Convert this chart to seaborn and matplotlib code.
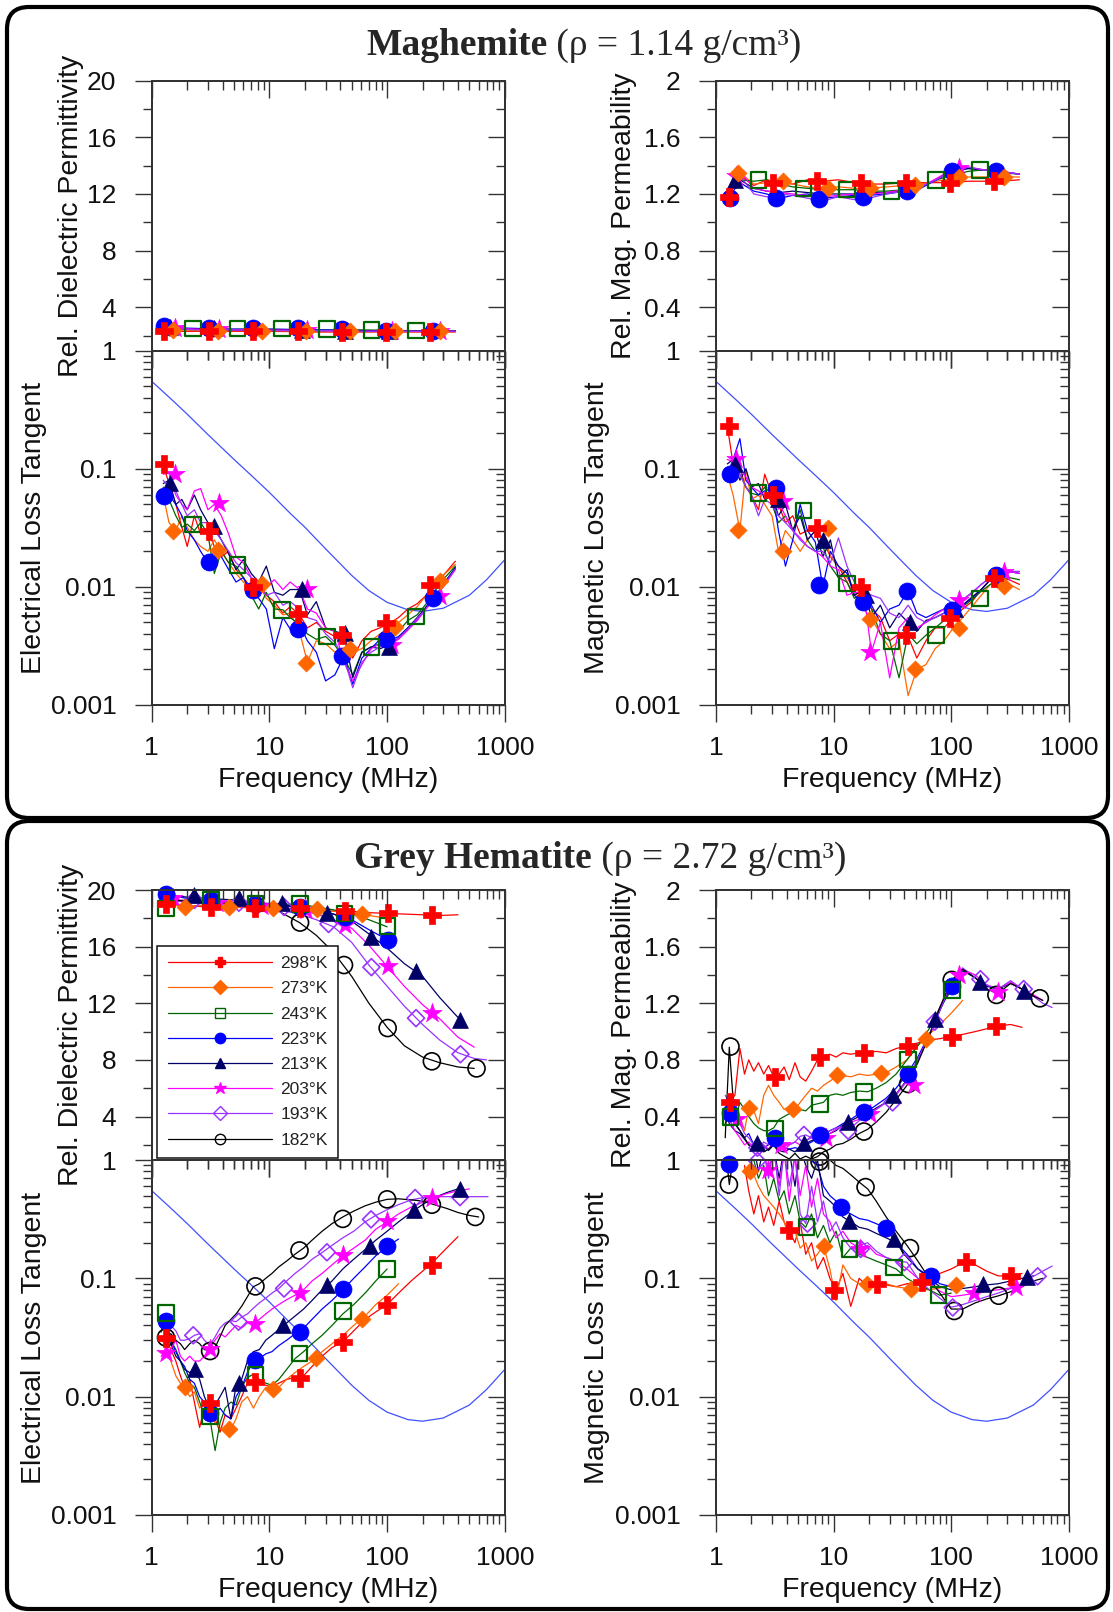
"""
Dielectric and magnetic spectra of maghemite and grey hematite at several temperatures.
"""

import matplotlib
matplotlib.use("Agg")
import matplotlib.pyplot as plt
import numpy as np
import seaborn as sns
from matplotlib.lines import Line2D
from matplotlib.patches import FancyBboxPatch
from matplotlib.ticker import LogLocator, NullFormatter

# ---------------------------------------------------------------- data
TEMPS = ["298", "273", "243", "223", "213", "203", "193", "182"]
LEGEND_LABELS = [t + "\u00b0K" for t in TEMPS]

# instrument limit curve (same in all loss-tangent panels)
REF_FREQ = [1, 1.5, 2, 3, 5, 7, 10, 15, 20, 30, 50, 70, 100, 150, 200, 300, 500, 700, 1000]
REF_LOSS = [0.55, 0.38, 0.29, 0.195, 0.12, 0.088, 0.063, 0.042, 0.032, 0.021, 0.0125,
            0.0093, 0.0074, 0.0064, 0.0062, 0.0066, 0.0085, 0.0115, 0.017]

# ---- Maghemite
MAG_EPS_GRID = [1.25, 1.6, 2.5, 5, 10, 25, 60, 150, 380]
MAG_EPS_LINES = {
    "298": [2.3, 2.3, 2.3, 2.3, 2.3, 2.25, 2.25, 2.25, 2.25],
    "273": [2.4, 2.4, 2.35, 2.35, 2.35, 2.3, 2.3, 2.3, 2.3],
    "243": [2.45, 2.45, 2.45, 2.45, 2.45, 2.4, 2.4, 2.35, 2.35],
    "223": [2.65, 2.55, 2.5, 2.45, 2.45, 2.4, 2.35, 2.3, 2.3],
    "213": [2.6, 2.5, 2.45, 2.4, 2.4, 2.35, 2.35, 2.3, 2.3],
    "203": [2.55, 2.5, 2.45, 2.4, 2.4, 2.35, 2.3, 2.3, 2.3],
    "193": [2.5, 2.45, 2.4, 2.4, 2.35, 2.35, 2.3, 2.3, 2.3],
}
MAG_EPS_MARKS = {
    "298": ([1.26, 3.06, 7.3, 17.5, 41, 98, 231], [2.3, 2.3, 2.3, 2.3, 2.25, 2.25, 2.25]),
    "273": ([1.52, 3.65, 8.7, 20.6, 48.7, 116, 281], [2.4, 2.35, 2.35, 2.35, 2.3, 2.3, 2.3]),
    "243": ([2.23, 5.35, 12.8, 30.8, 73.6, 176], [2.5, 2.5, 2.5, 2.45, 2.4, 2.35]),
    "223": ([1.28, 3.06, 7.3, 17.5, 41, 98, 245], [2.7, 2.55, 2.5, 2.5, 2.45, 2.35, 2.3]),
    "213": ([1.42, 3.35, 18.8, 44, 104], [2.6, 2.5, 2.4, 2.35, 2.3]),
    "203": ([1.58, 3.7, 20.9, 110, 280], [2.5, 2.45, 2.4, 2.3, 2.3]),
}

MAG_MU_GRID = [1.25, 1.6, 2.1, 2.7, 3.5, 4.5, 6, 8, 11, 15, 20, 28, 40, 55, 75, 100, 140, 190, 260, 380]
MAG_MU_LINES = {
    "298": [1.18, 1.33, 1.26, 1.3, 1.28, 1.27, 1.3, 1.29, 1.3, 1.28, 1.27, 1.27, 1.28, 1.28, 1.28, 1.28, 1.29, 1.29, 1.29, 1.3],
    "273": [1.2, 1.35, 1.27, 1.28, 1.29, 1.27, 1.25, 1.24, 1.25, 1.24, 1.24, 1.25, 1.26, 1.27, 1.29, 1.31, 1.32, 1.32, 1.32, 1.32],
    "243": [1.22, 1.3, 1.29, 1.3, 1.27, 1.25, 1.24, 1.23, 1.23, 1.23, 1.22, 1.22, 1.23, 1.25, 1.3, 1.33, 1.36, 1.37, 1.35, 1.34],
    "223": [1.17, 1.28, 1.22, 1.2, 1.17, 1.19, 1.2, 1.17, 1.18, 1.19, 1.19, 1.2, 1.22, 1.24, 1.3, 1.36, 1.38, 1.37, 1.36, 1.34],
    "213": [1.2, 1.3, 1.24, 1.22, 1.21, 1.22, 1.21, 1.2, 1.2, 1.2, 1.21, 1.21, 1.22, 1.25, 1.3, 1.36, 1.38, 1.37, 1.36, 1.34],
    "203": [1.22, 1.36, 1.24, 1.22, 1.21, 1.2, 1.19, 1.18, 1.19, 1.2, 1.2, 1.21, 1.23, 1.25, 1.31, 1.37, 1.39, 1.37, 1.36, 1.34],
    "193": [1.2, 1.33, 1.2, 1.18, 1.2, 1.19, 1.17, 1.15, 1.18, 1.16, 1.17, 1.2, 1.22, 1.25, 1.3, 1.36, 1.39, 1.37, 1.36, 1.34],
}
MAG_MU_MARKS = {
    "298": ([1.3, 3.04, 7.2, 17, 41, 98, 233], [1.18, 1.28, 1.29, 1.28, 1.28, 1.28, 1.29]),
    "273": ([1.54, 3.69, 8.9, 20.5, 48.8, 116, 280], [1.35, 1.29, 1.24, 1.24, 1.26, 1.32, 1.32]),
    "243": ([2.3, 5.55, 13, 31, 74, 176], [1.3, 1.24, 1.23, 1.22, 1.3, 1.37]),
    "223": ([1.32, 3.25, 7.5, 17.8, 42.4, 101, 240], [1.17, 1.17, 1.165, 1.18, 1.22, 1.36, 1.36]),
    "213": ([1.45], [1.3]),
    "203": ([1.47, 116], [1.33, 1.38]),
}

MAG_LOSS_GRID = [1.25, 1.4, 1.6, 1.8, 2.0, 2.3, 2.6, 3.0, 3.4, 3.9, 4.5, 5.2, 6.0, 7.0, 8.1, 9.4, 11, 13, 15,
                 18, 21, 25, 30, 36, 43, 51, 61, 73, 87, 104, 125, 150, 180, 215, 260, 310, 380]
MAG_ELOSS_LINES = {
    "298": [0.108, 0.075, 0.05, 0.032, 0.022, 0.04, 0.028, 0.03, 0.022, 0.018, 0.02, 0.014, 0.012, 0.0098, 0.011,
            0.0085, 0.0075, 0.006, 0.0068, 0.0058, 0.0045, 0.005, 0.0042, 0.0038, 0.0038, 0.0025, 0.0035, 0.0042,
            0.0045, 0.0049, 0.0055, 0.0065, 0.0072, 0.0085, 0.0102, 0.013, 0.0165],
    "273": [0.06, 0.035, 0.03, 0.04, 0.032, 0.025, 0.022, 0.02, 0.025, 0.02, 0.016, 0.013, 0.011, 0.0095, 0.0105,
            0.008, 0.007, 0.0058, 0.006, 0.0042, 0.0023, 0.0035, 0.0033, 0.0028, 0.003, 0.0028, 0.003, 0.0035,
            0.004, 0.0045, 0.005, 0.0058, 0.0068, 0.0085, 0.011, 0.013, 0.0155],
    "243": [0.07, 0.055, 0.04, 0.032, 0.034, 0.03, 0.035, 0.028, 0.013, 0.02, 0.016, 0.015, 0.012, 0.0085, 0.0065,
            0.009, 0.0065, 0.0064, 0.0055, 0.0048, 0.004, 0.0036, 0.0038, 0.0032, 0.0025, 0.0018, 0.0028, 0.0031,
            0.0033, 0.0036, 0.0042, 0.0052, 0.0058, 0.0072, 0.0095, 0.012, 0.015],
    "223": [0.058, 0.06, 0.05, 0.04, 0.03, 0.025, 0.02, 0.016, 0.02, 0.018, 0.014, 0.011, 0.012, 0.009, 0.008,
            0.0065, 0.003, 0.0055, 0.0044, 0.0048, 0.0035, 0.0028, 0.0016, 0.0018, 0.0026, 0.0015, 0.0025, 0.003,
            0.0036, 0.0035, 0.0038, 0.0045, 0.0052, 0.0068, 0.0082, 0.011, 0.0145],
    "213": [0.075, 0.08, 0.05, 0.055, 0.045, 0.06, 0.045, 0.035, 0.032, 0.025, 0.019, 0.014, 0.017, 0.013, 0.011,
            0.015, 0.009, 0.0085, 0.0095, 0.0095, 0.0058, 0.0075, 0.0045, 0.0042, 0.004, 0.0017, 0.0028, 0.0031,
            0.003, 0.0032, 0.0037, 0.0045, 0.0055, 0.0068, 0.0085, 0.011, 0.0145],
    "203": [0.09, 0.092, 0.06, 0.05, 0.045, 0.065, 0.068, 0.045, 0.05, 0.04, 0.028, 0.018, 0.016, 0.012, 0.011,
            0.01, 0.0115, 0.0095, 0.011, 0.0095, 0.0065, 0.006, 0.0045, 0.0042, 0.0023, 0.0016, 0.0022, 0.003,
            0.0033, 0.0032, 0.0036, 0.0043, 0.0052, 0.0065, 0.0082, 0.0105, 0.014],
    "193": [0.08, 0.07, 0.065, 0.05, 0.04, 0.045, 0.035, 0.035, 0.03, 0.025, 0.02, 0.016, 0.014, 0.012, 0.01,
            0.0085, 0.009, 0.007, 0.0075, 0.0065, 0.0055, 0.0052, 0.004, 0.0034, 0.0025, 0.0014, 0.0023, 0.0028,
            0.0031, 0.0033, 0.0037, 0.0044, 0.0054, 0.0066, 0.0084, 0.0108, 0.0142],
}
MAG_ELOSS_MARKS = {
    "298": ([1.26, 3.06, 7.3, 17.5, 41, 98, 231], [0.109, 0.030, 0.0099, 0.0059, 0.0039, 0.0049, 0.0103]),
    "273": ([1.52, 3.65, 8.7, 20.6, 48.7, 116, 281], [0.0296, 0.0204, 0.0106, 0.00226, 0.00296, 0.0046, 0.0113]),
    "243": ([2.23, 5.35, 12.8, 30.8, 73.6, 176], [0.0338, 0.0154, 0.0064, 0.0038, 0.0031, 0.0056]),
    "223": ([1.28, 3.06, 7.3, 17.5, 41, 98, 245], [0.0586, 0.0162, 0.0095, 0.0044, 0.0026, 0.0036, 0.008]),
    "213": ([1.42, 3.35, 18.8, 44, 104], [0.076, 0.0326, 0.0096, 0.0041, 0.0031]),
    "203": ([1.58, 3.7, 20.9, 110, 280], [0.0895, 0.0515, 0.0096, 0.0032, 0.0083]),
}
MAG_MLOSS_LINES = {
    "298": [0.23, 0.11, 0.1, 0.07, 0.06, 0.045, 0.09, 0.06, 0.05, 0.035, 0.04, 0.028, 0.03, 0.032, 0.025,
            0.018, 0.015, 0.011, 0.0085, 0.0095, 0.0065, 0.0055, 0.0035, 0.004, 0.0038, 0.0025, 0.0035, 0.0045,
            0.0045, 0.0055, 0.0065, 0.0075, 0.0095, 0.0115, 0.012, 0.0115, 0.0105],
    "273": [0.09, 0.06, 0.03, 0.1, 0.055, 0.06, 0.05, 0.04, 0.02, 0.03, 0.025, 0.02, 0.025, 0.03, 0.032,
            0.018, 0.015, 0.012, 0.0095, 0.0065, 0.0054, 0.004, 0.003, 0.0035, 0.0012, 0.002, 0.0022, 0.003,
            0.0035, 0.0045, 0.0055, 0.0068, 0.0085, 0.0105, 0.011, 0.0105, 0.0095],
    "243": [0.1, 0.11, 0.09, 0.07, 0.062, 0.06, 0.07, 0.05, 0.035, 0.04, 0.03, 0.045, 0.025, 0.02, 0.022,
            0.015, 0.012, 0.011, 0.008, 0.009, 0.0065, 0.004, 0.0035, 0.0017, 0.004, 0.0033, 0.0039, 0.0045,
            0.0052, 0.006, 0.0068, 0.0078, 0.0092, 0.0105, 0.0115, 0.012, 0.0115],
    "223": [0.09, 0.12, 0.18, 0.08, 0.07, 0.06, 0.065, 0.068, 0.03, 0.015, 0.025, 0.05, 0.03, 0.024, 0.01,
            0.02, 0.015, 0.013, 0.0085, 0.0073, 0.007, 0.005, 0.0065, 0.007, 0.0093, 0.006, 0.0055, 0.006,
            0.0065, 0.0066, 0.007, 0.008, 0.0095, 0.0115, 0.0125, 0.0135, 0.013],
    "213": [0.11, 0.12, 0.08, 0.1, 0.07, 0.075, 0.055, 0.06, 0.04, 0.05, 0.03, 0.04, 0.025, 0.03, 0.018,
            0.025, 0.012, 0.014, 0.0085, 0.0095, 0.0055, 0.007, 0.0045, 0.006, 0.005, 0.0042, 0.0052, 0.0055,
            0.006, 0.0062, 0.007, 0.0082, 0.0095, 0.0115, 0.0125, 0.0135, 0.0135],
    "203": [0.12, 0.115, 0.1, 0.085, 0.07, 0.065, 0.06, 0.055, 0.052, 0.04, 0.03, 0.026, 0.022, 0.02, 0.018,
            0.015, 0.014, 0.0085, 0.009, 0.009, 0.0028, 0.005, 0.0017, 0.0045, 0.0055, 0.0045, 0.005, 0.0058,
            0.0065, 0.007, 0.0078, 0.0088, 0.0105, 0.012, 0.013, 0.0135, 0.013],
    "193": [0.1, 0.11, 0.09, 0.07, 0.06, 0.04, 0.055, 0.05, 0.04, 0.035, 0.03, 0.025, 0.022, 0.02, 0.02,
            0.016, 0.026, 0.015, 0.011, 0.009, 0.0085, 0.008, 0.006, 0.0055, 0.007, 0.0055, 0.005, 0.0055,
            0.006, 0.0068, 0.0078, 0.009, 0.0105, 0.012, 0.013, 0.0135, 0.0135],
}
MAG_MLOSS_MARKS = {
    "298": ([1.3, 3.04, 7.2, 17, 41, 98, 233], [0.23, 0.0605, 0.0316, 0.01, 0.0039, 0.0055, 0.0119]),
    "273": ([1.54, 3.69, 8.9, 20.5, 48.8, 116, 280], [0.0306, 0.02, 0.0316, 0.0054, 0.002, 0.0045, 0.0102]),
    "243": ([2.3, 5.55, 13, 31, 74, 176], [0.0625, 0.0443, 0.0107, 0.0035, 0.0039, 0.008]),
    "223": ([1.32, 3.25, 7.5, 17.8, 42.4, 101, 240], [0.0895, 0.069, 0.0103, 0.0074, 0.0093, 0.0064, 0.0127]),
    "213": ([1.45, 3.4, 8.1, 19, 45, 107, 255], [0.11, 0.055, 0.025, 0.0085, 0.005, 0.0065, 0.0125]),
    "203": ([1.47, 3.7, 20.5, 116, 280], [0.12, 0.053, 0.0028, 0.0077, 0.0135]),
}

# ---- Grey hematite
HEM_EPS_GRID = [1.2, 1.5, 2, 3, 5, 8, 12, 18, 25, 35, 50, 70, 100, 140, 200, 280, 400, 550, 700]
HEM_EPS_LINES = {
    "298": [19.2, 19.0, 18.9, 18.8, 18.8, 18.7, 18.7, 18.7, 18.6, 18.5, 18.5, 18.4, 18.35, 18.3, 18.25, 18.2, 18.25],
    "273": [19.0, 18.9, 18.9, 18.9, 18.8, 18.8, 18.7, 18.7, 18.6, 18.5, 18.4, 18.2, 18.0],
    "243": [18.8, 19.2, 19.3, 19.2, 19.1, 19.0, 19.0, 19.0, 18.8, 18.6, 18.3, 17.9, 17.4],
    "223": [19.8, 19.6, 19.4, 19.3, 19.1, 19.0, 18.9, 18.8, 18.6, 18.3, 17.9, 17.2, 16.5],
    "213": [19.7, 19.6, 19.5, 19.4, 19.3, 19.1, 19.0, 18.8, 18.6, 18.3, 17.8, 16.9, 15.9, 14.8, 13.9, 12.4, 11.0],
    "203": [19.6, 19.4, 19.2, 19.1, 19.0, 18.9, 18.8, 18.6, 18.3, 17.9, 17.3, 16.1, 14.6, 13.2, 11.9, 10.9, 9.6, 8.9],
    "193": [19.4, 19.3, 19.1, 19.0, 18.9, 18.8, 18.6, 18.3, 17.9, 17.4, 16.3, 14.7, 13.2, 11.8, 10.5, 9.4, 8.5, 8.1, 8.0],
    "182": [19.5, 19.3, 19.2, 19.1, 19.0, 18.9, 18.5, 17.7, 16.8, 15.6, 13.9, 12.0, 10.3, 9.0, 8.2, 7.8, 7.5, 7.4],
}
HEM_EPS_MARKS = {
    "298": ([1.32, 3.17, 7.6, 18.2, 43.6, 101, 240], [19.0, 18.8, 18.7, 18.7, 18.5, 18.35, 18.2]),
    "273": ([1.9, 4.5, 10.8, 25.5, 60.6], [18.8, 18.8, 18.7, 18.65, 18.3]),
    "243": ([1.32, 3.17, 7.6, 18.2, 43.6, 101], [18.7, 19.3, 19.05, 19.0, 18.35, 17.45]),
    "223": ([1.32, 3.17, 7.6, 18.2, 43.6, 101], [19.7, 19.3, 19.0, 18.8, 18.1, 16.5]),
    "213": ([2.3, 5.5, 12.8, 30.8, 73.5, 176, 418], [19.65, 19.4, 19.05, 18.35, 16.7, 14.3, 10.85]),
    "203": ([1.5, 3.6, 8.7, 20.6, 43.6, 101, 240], [19.4, 19.1, 18.9, 18.6, 17.5, 14.6, 11.3]),
    "193": ([2.3, 5.5, 13.3, 31.8, 73.5, 176, 420], [19.3, 19.1, 18.8, 17.6, 14.55, 10.95, 8.4]),
    "182": ([18.2, 43, 101, 240, 575], [17.7, 14.7, 10.25, 7.9, 7.4]),
}

HEM_GRID = [1.2, 1.3, 1.45, 1.6, 1.75, 1.9, 2.1, 2.3, 2.55, 2.8, 3.1, 3.45, 3.8, 4.2, 4.7, 5.2, 5.8, 6.5, 7.3, 8.2,
            9.3, 10.5, 12, 14, 16.5, 19.5, 23, 28, 34, 42, 52, 65, 80, 100, 125, 160, 200, 250, 320, 400,
            500, 600, 720]
HEM_MU_LINES = {
    "298": [0.45, 0.5, 0.55, 0.88, 0.7, 0.8, 0.72, 0.78, 0.7, 0.76, 0.68, 0.7, 0.75, 0.66, 0.78, 0.68, 0.65, 0.72,
            0.8, 0.83, 0.84, 0.82, 0.85, 0.84, 0.85, 0.85, 0.86, 0.85, 0.88, 0.9, 0.92, 0.94, 0.95, 0.965, 0.98,
            1.0, 1.02, 1.04, 1.05, 1.03],
    "273": [0.45, 0.46, 0.45, 0.4, 0.3, 0.46, 0.44, 0.35, 0.55, 0.62, 0.55, 0.5, 0.45, 0.47, 0.45, 0.5, 0.55, 0.6,
            0.58, 0.62, 0.65, 0.68, 0.69, 0.68, 0.7, 0.69, 0.7, 0.71, 0.75, 0.8, 0.9, 0.98, 1.05, 1.13, 1.22],
    "243": [0.35, 0.4, 0.37, 0.5, 0.45, 0.4, 0.35, 0.32, 0.3, 0.3, 0.32, 0.38, 0.4, 0.42, 0.43, 0.45, 0.44, 0.48,
            0.49, 0.5, 0.55, 0.56, 0.55, 0.57, 0.58, 0.575, 0.6, 0.64, 0.7, 0.8, 0.9, 1.02, 1.17, 1.29],
    "223": [0.4, 0.42, 0.35, 0.3, 0.25, 0.28, 0.2, 0.23, 0.18, 0.2, 0.25, 0.22, 0.18, 0.17, 0.18, 0.17, 0.2, 0.22,
            0.25, 0.27, 0.3, 0.32, 0.35, 0.38, 0.42, 0.44, 0.48, 0.53, 0.6, 0.7, 0.82, 0.98, 1.15, 1.32],
    "213": [0.45, 0.35, 0.3, 0.28, 0.24, 0.2, 0.18, 0.21, 0.19, 0.16, 0.2, 0.16, 0.15, 0.17, 0.15, 0.19, 0.21, 0.23,
            0.25, 0.26, 0.28, 0.3, 0.34, 0.37, 0.4, 0.42, 0.46, 0.5, 0.56, 0.66, 0.8, 0.97, 1.15, 1.33, 1.43,
            1.38, 1.32, 1.3, 1.34, 1.3, 1.25],
    "203": [0.42, 0.38, 0.3, 0.25, 0.2, 0.22, 0.18, 0.15, 0.2, 0.17, 0.22, 0.18, 0.16, 0.2, 0.22, 0.2, 0.23, 0.25,
            0.24, 0.26, 0.28, 0.31, 0.33, 0.36, 0.38, 0.42, 0.45, 0.5, 0.56, 0.65, 0.8, 0.97, 1.17, 1.35, 1.44,
            1.4, 1.33, 1.3, 1.35, 1.3, 1.26, 1.22],
    "193": [0.55, 0.5, 0.52, 0.35, 0.28, 0.25, 0.2, 0.17, 0.22, 0.2, 0.22, 0.21, 0.2, 0.2, 0.22, 0.26, 0.27, 0.25,
            0.27, 0.28, 0.3, 0.32, 0.31, 0.32, 0.37, 0.41, 0.45, 0.5, 0.55, 0.65, 0.8, 0.97, 1.15, 1.34, 1.45,
            1.38, 1.33, 1.3, 1.36, 1.3, 1.25, 1.2, 1.17],
    "182": [0.25, 0.89, 0.35, 0.3, 0.25, 0.2, 0.18, 0.22, 0.15, 0.17, 0.2, 0.14, 0.12, 0.1, 0.14, 0.1, 0.12, 0.1,
            0.117, 0.15, 0.17, 0.2, 0.21, 0.24, 0.28, 0.31, 0.36, 0.43, 0.52, 0.62, 0.78, 0.97, 1.17, 1.36, 1.44,
            1.38, 1.3, 1.27, 1.34, 1.3, 1.25, 1.22],
}
HEM_MU_MARKS = {
    "298": ([1.33, 3.18, 7.65, 18.1, 43, 101, 242], [0.5, 0.68, 0.82, 0.85, 0.9, 0.96, 1.04]),
    "273": ([1.91, 4.49, 10.7, 25.5, 60.7], [0.46, 0.45, 0.69, 0.71, 0.95]),
    "243": ([1.33, 3.18, 7.65, 18.1, 43, 101], [0.395, 0.317, 0.49, 0.574, 0.804, 1.294]),
    "223": ([1.33, 3.18, 7.65, 18.1, 43, 101], [0.423, 0.247, 0.27, 0.435, 0.7, 1.322]),
    "213": ([2.25, 5.6, 13.3, 31.7, 72.5, 177, 413], [0.21, 0.21, 0.36, 0.55, 1.09, 1.35, 1.29]),
    "203": ([1.5, 3.6, 8.7, 20.6, 48, 116, 250], [0.38, 0.2, 0.25, 0.42, 0.62, 1.4, 1.28]),
    "193": ([2.25, 5.6, 13.3, 31.7, 72.5, 177, 413], [0.18, 0.27, 0.3, 0.5, 1.07, 1.37, 1.3]),
    "182": ([1.33, 7.65, 18.1, 43, 101, 242, 566], [0.894, 0.117, 0.294, 0.63, 1.365, 1.259, 1.235]),
}
HEM_ELOSS_LINES = {
    "298": [0.03, 0.032, 0.025, 0.02, 0.015, 0.012, 0.014, 0.009, 0.0055, 0.008, 0.009, 0.0065, 0.005, 0.007,
            0.0065, 0.008, 0.01, 0.013, 0.0135, 0.013, 0.0125, 0.012, 0.013, 0.014, 0.0145, 0.015, 0.018, 0.022,
            0.026, 0.029, 0.036, 0.045, 0.052, 0.06, 0.075, 0.095, 0.115, 0.14, 0.18, 0.225],
    "273": [0.03, 0.028, 0.02, 0.015, 0.013, 0.012, 0.01, 0.011, 0.008, 0.009, 0.0075, 0.006, 0.0055, 0.005,
            0.0053, 0.0065, 0.009, 0.01, 0.008, 0.01, 0.012, 0.0115, 0.012, 0.014, 0.016, 0.018, 0.02, 0.024,
            0.028, 0.033, 0.04, 0.048, 0.06, 0.072, 0.09],
    "243": [0.035, 0.05, 0.03, 0.025, 0.02, 0.016, 0.013, 0.012, 0.009, 0.007, 0.0068, 0.0035, 0.006, 0.008,
            0.009, 0.0085, 0.012, 0.0145, 0.0155, 0.014, 0.013, 0.0125, 0.014, 0.017, 0.021, 0.024, 0.028, 0.033,
            0.04, 0.05, 0.06, 0.075, 0.095, 0.12],
    "223": [0.04, 0.044, 0.03, 0.024, 0.02, 0.018, 0.014, 0.013, 0.01, 0.009, 0.0073, 0.007, 0.008, 0.007,
            0.0065, 0.01, 0.012, 0.016, 0.02, 0.021, 0.023, 0.024, 0.027, 0.03, 0.034, 0.038, 0.045, 0.055, 0.065,
            0.08, 0.1, 0.125, 0.155, 0.185, 0.215],
    "213": [0.03, 0.034, 0.028, 0.022, 0.02, 0.017, 0.016, 0.017, 0.014, 0.01, 0.008, 0.0085, 0.01, 0.012,
            0.0065, 0.0125, 0.014, 0.02, 0.024, 0.025, 0.03, 0.033, 0.037, 0.042, 0.048, 0.055, 0.065, 0.08,
            0.095, 0.12, 0.145, 0.175, 0.21, 0.25, 0.3, 0.36, 0.42, 0.48, 0.53, 0.57],
    "203": [0.022, 0.024, 0.025, 0.03, 0.022, 0.02, 0.022, 0.02, 0.02, 0.022, 0.026, 0.03, 0.034, 0.032, 0.036,
            0.04, 0.038, 0.042, 0.041, 0.045, 0.05, 0.055, 0.06, 0.066, 0.072, 0.08, 0.095, 0.11, 0.13, 0.155,
            0.18, 0.21, 0.26, 0.3, 0.35, 0.4, 0.44, 0.48, 0.52, 0.55, 0.57],
    "193": [0.04, 0.038, 0.04, 0.036, 0.03, 0.03, 0.031, 0.033, 0.034, 0.03, 0.027, 0.032, 0.038, 0.042, 0.044,
            0.043, 0.047, 0.05, 0.056, 0.062, 0.068, 0.075, 0.082, 0.095, 0.11, 0.125, 0.145, 0.165, 0.19, 0.22,
            0.25, 0.3, 0.34, 0.38, 0.42, 0.46, 0.48, 0.49, 0.49, 0.49, 0.49, 0.49, 0.49],
    "182": [0.03, 0.032, 0.034, 0.03, 0.028, 0.025, 0.028, 0.03, 0.028, 0.025, 0.0245, 0.026, 0.032, 0.04, 0.045,
            0.05, 0.058, 0.07, 0.085, 0.09, 0.1, 0.11, 0.125, 0.14, 0.16, 0.18, 0.21, 0.25, 0.29, 0.33, 0.37,
            0.41, 0.44, 0.465, 0.47, 0.46, 0.45, 0.42, 0.39, 0.36, 0.34, 0.33],
}
HEM_ELOSS_MARKS = {
    "298": ([1.32, 3.13, 7.6, 18, 42, 100, 240], [0.0316, 0.0089, 0.0133, 0.0145, 0.029, 0.059, 0.13]),
    "273": ([1.92, 4.5, 10.7, 25, 61], [0.0121, 0.0053, 0.0116, 0.0214, 0.0457]),
    "243": ([1.32, 3.13, 7.6, 18, 42, 100], [0.051, 0.0068, 0.0154, 0.0232, 0.053, 0.12]),
    "223": ([1.32, 3.13, 7.6, 18, 42, 100], [0.044, 0.0073, 0.0206, 0.035, 0.082, 0.187]),
    "213": ([2.33, 5.46, 13, 30.8, 71.9, 170, 419], [0.017, 0.0131, 0.040, 0.088, 0.187, 0.375, 0.573]),
    "203": ([1.32, 3.13, 7.6, 18, 42, 100, 240], [0.0236, 0.0255, 0.041, 0.075, 0.158, 0.308, 0.477]),
    "193": ([2.25, 5.46, 13.3, 30.8, 73, 173, 416], [0.033, 0.043, 0.082, 0.166, 0.315, 0.477, 0.486]),
    "182": ([1.32, 3.13, 7.6, 18, 42, 100, 240, 561], [0.0316, 0.0243, 0.0855, 0.172, 0.318, 0.465, 0.419, 0.33]),
}
HEM_MLOSS_LINES = {
    "298": [None, None, None, None, 0.9, 0.55, 0.35, 0.5, 0.3, 0.4, 0.28, 0.45, 0.3, 0.25, 0.2, 0.3, 0.16, 0.2,
            0.12, 0.15, 0.1, 0.08, 0.11, 0.058, 0.1, 0.085, 0.09, 0.088, 0.085, 0.09, 0.092, 0.1, 0.11, 0.12,
            0.135, 0.13, 0.115, 0.105, 0.104, 0.11],
    "273": [None, None, None, None, 0.85, 0.8, 0.75, 0.6, 0.5, 0.45, 0.4, 0.35, 0.3, 0.22, 0.25, 0.18, 0.2, 0.14,
            0.16, 0.19, 0.12, 0.065, 0.13, 0.1, 0.09, 0.09, 0.088, 0.09, 0.085, 0.082, 0.08, 0.08, 0.083, 0.087,
            0.09],
    "243": [1.3, 1.3, 1.3, 1.3, 1.3, 1.3, 1.0, 0.7, 0.9, 0.5, 0.7, 0.45, 0.55, 0.35, 0.5, 0.3, 0.27, 0.35, 0.22,
            0.28, 0.2, 0.25, 0.15, 0.18, 0.16, 0.15, 0.14, 0.13, 0.12, 0.1, 0.088, 0.08, 0.072, 0.075],
    "223": [1.0, 0.93, 1.0, 1.0, 1.0, 1.0, 1.0, 1.0, 1.0, 1.0, 1.0, 1.0, 1.0, 1.0, 1.0, 1.0, 1.0, 1.0, 0.9, 0.6,
            0.5, 0.45, 0.38, 0.35, 0.32, 0.31, 0.29, 0.265, 0.2, 0.16, 0.12, 0.105, 0.09, 0.085],
    "213": [1.3, 1.2, 1.3, 1.2, 1.3, 1.2, 1.3, 0.8, 1.3, 1.2, 1.3, 0.7, 1.3, 1.2, 0.6, 1.3, 0.9, 0.7, 1.0, 0.5,
            0.45, 0.4, 0.33, 0.3, 0.27, 0.26, 0.24, 0.22, 0.2, 0.15, 0.12, 0.1, 0.085, 0.08, 0.082, 0.085, 0.088,
            0.09, 0.095, 0.1, 0.105],
    "203": [1.3, 1.2, 1.3, 1.3, 1.2, 1.3, 1.2, 1.3, 1.1, 0.83, 1.2, 0.6, 1.2, 0.45, 1.1, 0.5, 0.9, 0.4, 0.7, 0.35,
            0.3, 0.22, 0.25, 0.2, 0.18, 0.19, 0.16, 0.15, 0.14, 0.12, 0.1, 0.09, 0.078, 0.07, 0.072, 0.075, 0.078,
            0.08, 0.083, 0.088, 0.095],
    "193": [1.3, 1.2, 1.3, 1.2, 1.3, 1.2, 1.0, 1.3, 1.2, 0.7, 1.3, 0.5, 1.2, 0.6, 1.1, 0.35, 0.29, 0.6, 0.3, 0.45,
            0.25, 0.3, 0.22, 0.18, 0.19, 0.2, 0.17, 0.15, 0.14, 0.137, 0.1, 0.08, 0.068, 0.057, 0.06, 0.065, 0.07,
            0.075, 0.082, 0.09, 0.104, 0.115, 0.127],
    "182": [1.3, 0.62, 1.3, 1.2, 1.3, 1.2, 1.3, 1.2, 1.3, 1.2, 1.3, 1.2, 1.3, 1.2, 1.3, 1.2, 1.3, 1.2, 1.1, 1.0,
            1.0, 0.9, 0.85, 0.75, 0.65, 0.57, 0.45, 0.33, 0.25, 0.19, 0.14, 0.1, 0.075, 0.055, 0.055, 0.062, 0.067,
            0.071, 0.077, 0.085, 0.095, 0.1],
}
HEM_MLOSS_MARKS = {
    "298": ([4.2, 10, 23.5, 56, 133, 322], [0.254, 0.08, 0.0895, 0.0937, 0.137, 0.104]),
    "273": ([1.93, 8.3, 19.4, 45.5, 110], [0.8, 0.189, 0.0895, 0.081, 0.0877]),
    "243": ([5.87, 13.7, 32.6, 77.6], [0.271, 0.177, 0.124, 0.0722]),
    "223": ([1.29, 11.5, 27.8, 66.7], [0.93, 0.40, 0.265, 0.105]),
    "213": ([13.5, 32.6, 185, 440], [0.308, 0.216, 0.0895, 0.102]),
    "203": ([2.77, 16.9, 155, 357], [0.83, 0.177, 0.075, 0.084]),
    "193": ([2.25, 6.0, 17, 40, 103, 543], [0.98, 0.29, 0.177, 0.137, 0.0567, 0.104]),
    "182": ([1.29, 7.6, 18.7, 44.6, 106, 253], [0.62, 0.97, 0.59, 0.18, 0.053, 0.0713]),
}

# ---------------------------------------------------------------- styles
COLORS = {"298": "#ff0000", "273": "#ff6600", "243": "#006600", "223": "#0000ff",
          "213": "#000066", "203": "#ff00ff", "193": "#9933ff", "182": "#000000"}
MARKERS = {
    "298": dict(shape="P", s=150, filled=True, lw=0.5),
    "273": dict(shape="D", s=75, filled=True, lw=0.5),
    "243": dict(shape="s", s=125, filled=False, lw=1.6),
    "223": dict(shape="o", s=150, filled=True, lw=0.5),
    "213": dict(shape="^", s=130, filled=True, lw=0.5),
    "203": dict(shape="*", s=210, filled=True, lw=0.5),
    "193": dict(shape="D", s=75, filled=False, lw=1.2),
    "182": dict(shape="o", s=150, filled=False, lw=1.2),
}
REF_COLOR = "#4050ff"
AXIS_COLOR = "#333333"
TICK_SIZE = 19
LABEL_SIZE = 20.5

sns.set_theme(style="white")
plt.rcParams["font.family"] = ["Liberation Sans", "DejaVu Sans"]

W_PX, H_PX = 1113, 1612
fig = plt.figure(figsize=(W_PX / 100, H_PX / 100), dpi=100)
fig.patch.set_facecolor("white")

COL_X = {"left": 151.8, "right": 715.9}
COL_W = 353.0
ROWS = {"mag_top": (80.7, 350.7), "mag_loss": (350.7, 705.0),
        "hem_top": (890.0, 1160.0), "hem_loss": (1160.0, 1515.0)}
YLIMS = {"eps": (0.93, 20), "mu": (0.093, 2), "loss": (0.001, 1)}


def make_axes(col, row):
    top, bot = ROWS[row]
    rect = [COL_X[col] / W_PX, 1 - bot / H_PX, COL_W / W_PX, (bot - top) / H_PX]
    ax = fig.add_axes(rect)
    ax.set_facecolor("none")
    return ax


def set_x_ticks(ax):
    ax.set_xscale("log")
    ax.set_xlim(1, 1000)
    ax.set_xticks([1, 10, 100, 1000], ["1", "10", "100", "1000"])
    ax.xaxis.set_minor_locator(LogLocator(base=10, subs=np.arange(2, 10), numticks=20))
    ax.xaxis.set_minor_formatter(NullFormatter())


def set_y_ticks(ax, kind):
    ax.set_yscale("log" if kind == "loss" else "linear")
    ax.set_ylim(*YLIMS[kind])
    if kind == "loss":
        ax.set_yticks([0.001, 0.01, 0.1, 1], ["0.001", "0.01", "0.1", "1"])
        ax.yaxis.set_minor_locator(LogLocator(base=10, subs=np.arange(2, 10), numticks=20))
        ax.yaxis.set_minor_formatter(NullFormatter())
    elif kind == "eps":
        ax.set_yticks([4, 8, 12, 16, 20], ["4", "8", "12", "16", "20"])
        ax.set_yticks([2, 6, 10, 14, 18], minor=True)
    else:
        ax.set_yticks([0.4, 0.8, 1.2, 1.6, 2.0], ["0.4", "0.8", "1.2", "1.6", "2"])
        ax.set_yticks([0.2, 0.6, 1.0, 1.4, 1.8], minor=True)


def decorate(ax, kind, show_x, ylabel, label_x):
    set_x_ticks(ax)
    set_y_ticks(ax, kind)
    ax.tick_params(which="both", direction="out", color=AXIS_COLOR, width=1.0, labelcolor="#111111")
    ax.tick_params(which="major", length=12.5)
    ax.tick_params(which="minor", length=6.5)
    ax.tick_params(axis="y", which="major", labelsize=TICK_SIZE, pad=13)
    ax.tick_params(axis="x", which="major", labelsize=TICK_SIZE, pad=10, labelbottom=show_x)
    ax.set_ylabel(ylabel, fontsize=LABEL_SIZE, va="center", color="#111111")
    ax.yaxis.set_label_coords(label_x, 0.5)
    if show_x:
        ax.set_xlabel("Frequency (MHz)", fontsize=LABEL_SIZE, labelpad=5, color="#111111")
    else:
        ax.set_xlabel("")

    # inward ticks on the right and top sides
    axr = ax.twinx()
    set_y_ticks(axr, kind)
    axr.tick_params(which="both", direction="in", color=AXIS_COLOR, width=1.0, labelright=False)
    axr.tick_params(which="major", length=12.5)
    axr.tick_params(which="minor", length=6.5)
    axt = ax.twiny()
    set_x_ticks(axt)
    axt.tick_params(which="both", direction="in", color=AXIS_COLOR, width=1.0, labeltop=False)
    axt.tick_params(which="major", length=12.5)
    axt.tick_params(which="minor", length=6.5)
    for a in (ax, axr, axt):
        for sp in a.spines.values():
            sp.set_color(AXIS_COLOR)
            sp.set_linewidth(1.2)


def as_array(values):
    return np.array([np.nan if v is None else v for v in values], dtype=float)


def plot_series(ax, grid, lines, marks):
    for t in TEMPS:
        if t not in lines:
            continue
        y = as_array(lines[t])
        x = np.array(grid[:len(y)], dtype=float)
        ok = ~np.isnan(y)
        sns.lineplot(x=x[ok], y=y[ok], ax=ax, color=COLORS[t], linewidth=0.9,
                     estimator=None, sort=False, legend=False, zorder=2)
    for t in TEMPS[::-1]:
        if t not in marks:
            continue
        f, v = marks[t]
        st = MARKERS[t]
        sns.scatterplot(x=f, y=v, ax=ax, marker=st["shape"], s=st["s"], color=COLORS[t],
                        facecolor=COLORS[t] if st["filled"] else "none", edgecolor=COLORS[t],
                        linewidth=st["lw"], legend=False, zorder=3, clip_on=False)


def plot_reference(ax):
    sns.lineplot(x=REF_FREQ, y=REF_LOSS, ax=ax, color=REF_COLOR, linewidth=0.9,
                 estimator=None, sort=False, legend=False, zorder=1)


PANELS = [
    ("left", "mag_top", "eps", MAG_EPS_GRID, MAG_EPS_LINES, MAG_EPS_MARKS, "Rel. Dielectric Permittivity", -0.228),
    ("left", "mag_loss", "loss", MAG_LOSS_GRID, MAG_ELOSS_LINES, MAG_ELOSS_MARKS, "Electrical Loss Tangent", -0.334),
    ("right", "mag_top", "mu", MAG_MU_GRID, MAG_MU_LINES, MAG_MU_MARKS, "Rel. Mag. Permeability", -0.259),
    ("right", "mag_loss", "loss", MAG_LOSS_GRID, MAG_MLOSS_LINES, MAG_MLOSS_MARKS, "Magnetic Loss Tangent", -0.337),
    ("left", "hem_top", "eps", HEM_EPS_GRID, HEM_EPS_LINES, HEM_EPS_MARKS, "Rel. Dielectric Permittivity", -0.228),
    ("left", "hem_loss", "loss", HEM_GRID, HEM_ELOSS_LINES, HEM_ELOSS_MARKS, "Electrical Loss Tangent", -0.334),
    ("right", "hem_top", "mu", HEM_GRID, HEM_MU_LINES, HEM_MU_MARKS, "Rel. Mag. Permeability", -0.259),
    ("right", "hem_loss", "loss", HEM_GRID, HEM_MLOSS_LINES, HEM_MLOSS_MARKS, "Magnetic Loss Tangent", -0.337),
]

axes = {}
for col, row, kind, grid, lines, marks, ylabel, lx in PANELS:
    ax = make_axes(col, row)
    ax.set_xscale("log")
    ax.set_yscale("log" if kind == "loss" else "linear")
    if kind == "loss":
        plot_reference(ax)
    plot_series(ax, grid, lines, marks)
    decorate(ax, kind, kind == "loss", ylabel, lx)
    axes[(col, row)] = ax

# legend in the grey hematite permittivity panel
handles = []
for t in TEMPS:
    st = MARKERS[t]
    ms = 7.5 if st["shape"] in ("o", "s") else 7
    if st["shape"] == "*":
        ms = 9
    handles.append(Line2D([], [], color=COLORS[t], linewidth=0.9, marker=st["shape"], markersize=ms,
                          markerfacecolor=COLORS[t] if st["filled"] else "none",
                          markeredgecolor=COLORS[t], markeredgewidth=1.0))
leg = axes[("left", "hem_top")].legend(
    handles, LEGEND_LABELS, loc="lower left", bbox_to_anchor=(0.015, 0.007), borderaxespad=0,
    fontsize=12.5, handlelength=6.0, handletextpad=0.5, labelspacing=0.58, borderpad=0.6,
    frameon=True, fancybox=False, framealpha=1, edgecolor="#111111")
leg.get_frame().set_linewidth(1.1)
for txt in leg.get_texts():
    txt.set_color("#222222")

# panel titles: bold mineral name followed by the density
serif = ["Liberation Serif", "DejaVu Serif"]
title_ax = axes[("left", "mag_top")]
for x_px, y_px, name, rest in [(366, 55, "Maghemite", " (\u03c1 = 1.14 g/cm\u00b3)"),
                               (354, 868, "Grey Hematite", " (\u03c1 = 2.72 g/cm\u00b3)")]:
    t1 = fig.text(x_px / W_PX, 1 - y_px / H_PX, name, fontsize=27, fontweight="bold",
                  family=serif, ha="left", va="baseline")
    title_ax.annotate(rest, xy=(1, 0), xycoords=t1, fontsize=27, family=serif,
                      ha="left", va="bottom", annotation_clip=False)

# rounded frames around the two panels
for y_top, y_bot in [(7, 818), (821, 1609)]:
    frame = FancyBboxPatch((7 / 100, (H_PX - y_bot) / 100), (1108 - 7) / 100, (y_bot - y_top) / 100,
                           boxstyle="round,pad=0,rounding_size=0.22", transform=fig.dpi_scale_trans,
                           facecolor="none", edgecolor="black", linewidth=3)
    fig.add_artist(frame)

fig.savefig("out.png", dpi=100)
plt.close(fig)
